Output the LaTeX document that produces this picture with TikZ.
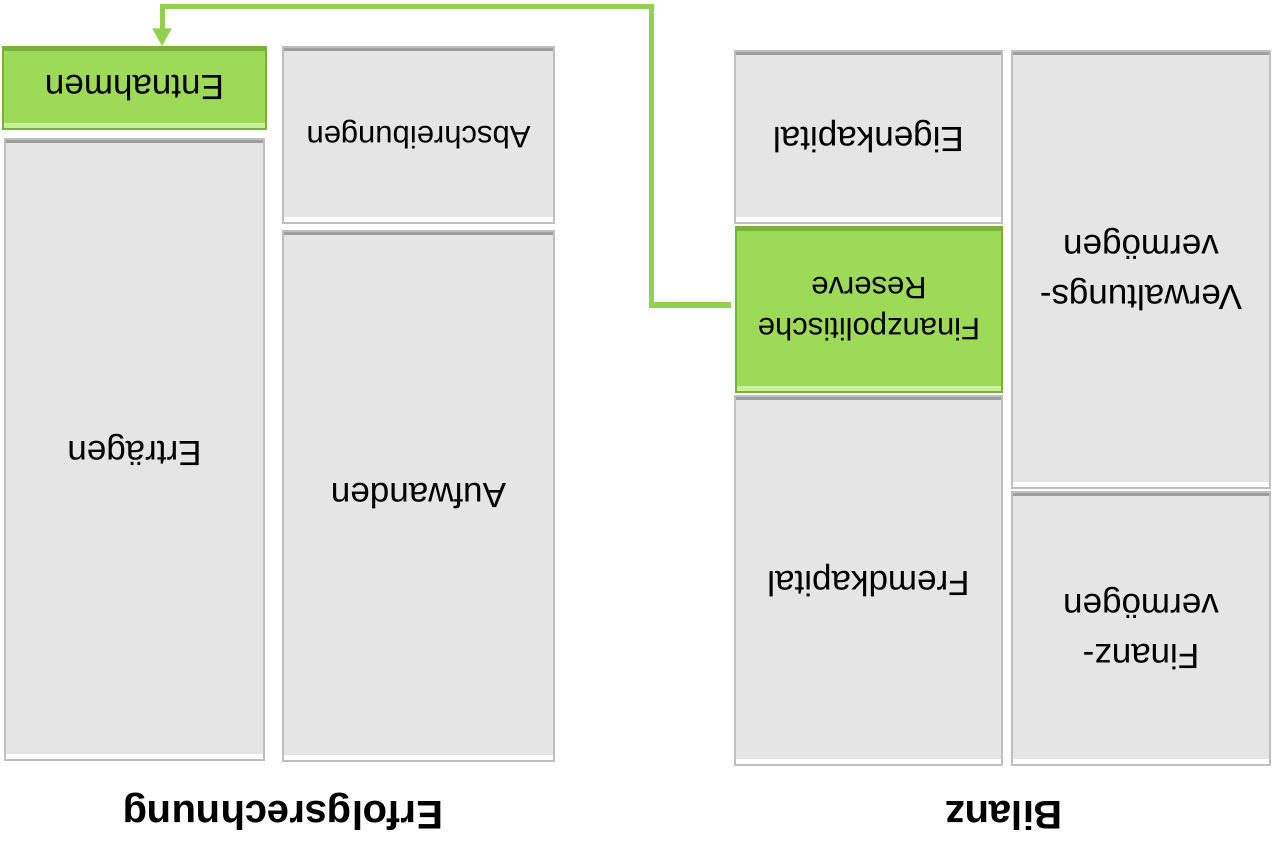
\documentclass[tikz,border=0pt]{standalone}
\usepackage{fontspec}
\setmainfont{Liberation Sans}
\usetikzlibrary{arrows.meta}
\definecolor{tilegray}{HTML}{E5E5E5}
\definecolor{tilegreen}{HTML}{9CDA57}
\definecolor{tilegreendark}{HTML}{78B23C}
\definecolor{tilegreenlight}{HTML}{C8F09A}
\definecolor{linkgreen}{HTML}{92D050}

\begin{document}
\begin{tikzpicture}[
    x=0.5pt, y=-0.5pt,
    bevel/.style 2 args={path picture={
        \fill[#1] (path picture bounding box.north west) rectangle ([yshift=2pt]path picture bounding box.north east);
        \fill[#2] (path picture bounding box.south west) rectangle ([yshift=-3pt]path picture bounding box.south east);
    }},
    box/.style={rectangle, rotate=180, inner sep=0pt, align=center,
        line width=0.6pt, font=\fontsize{17.5}{25}\selectfont},
    small/.style={font=\fontsize{15.5}{20.5}\selectfont},
    greybox/.style={box, fill=tilegray, draw=black!25, bevel={black!38}{white}},
    greenbox/.style={box, fill=tilegreen, draw=tilegreendark, bevel={tilegreendark}{tilegreenlight}},
    title/.style={rotate=180, font=\fontsize{20}{24}\selectfont\bfseries, text depth=0pt},
    link/.style={draw=linkgreen, line width=2.5pt, -{Triangle[length=9pt,width=9pt]}}
]
    \useasboundingbox (0,0) rectangle (1274,845);

    % Erfolgsrechnung
    \node[greenbox, minimum width=131.5pt, minimum height=41pt] (entn) at (134.5,88) {Entnahmen};
    \node[greybox, minimum width=129.5pt, minimum height=310.5pt] (ertr) at (134.5,449.5) {Erträgen};
    \node[greybox, small, minimum width=135.5pt, minimum height=88pt] (absch) at (418.5,135) {Abschreibungen};
    \node[greybox, minimum width=135.5pt, minimum height=265pt] (aufw) at (418.5,496) {Aufwanden};

    % Bilanz
    \node[greybox, minimum width=133.5pt, minimum height=86pt] (eigen) at (868.5,137) {Eigenkapital};
    \node[greenbox, small, minimum width=133pt, minimum height=82.5pt] (finres) at (869,309.5) {Finanzpolitische\\Reserve};
    \node[greybox, minimum width=133.5pt, minimum height=184.5pt] (fremd) at (868.5,580.5) {Fremdkapital};
    \node[greybox, minimum width=129pt, minimum height=218.5pt] (verw) at (1141,269.5) {Verwaltungs-\\vermögen};
    \node[greybox, minimum width=129pt, minimum height=136.5pt] (finv) at (1141,628.5) {Finanz-\\vermögen};

    \node[title] (erfolg) at (283,816) {Erfolgsrechnung};
    \node[title] (bilanz) at (1004,816) {Bilanz};

    % nodes are turned round: east is on the left, south on top
    \coordinate (bend) at (651,7);
    \draw[link, shorten <=2pt] ([yshift=2.25pt]finres.east) -| (bend) -| ([xshift=13.75pt]entn.south);
\end{tikzpicture}
\end{document}
